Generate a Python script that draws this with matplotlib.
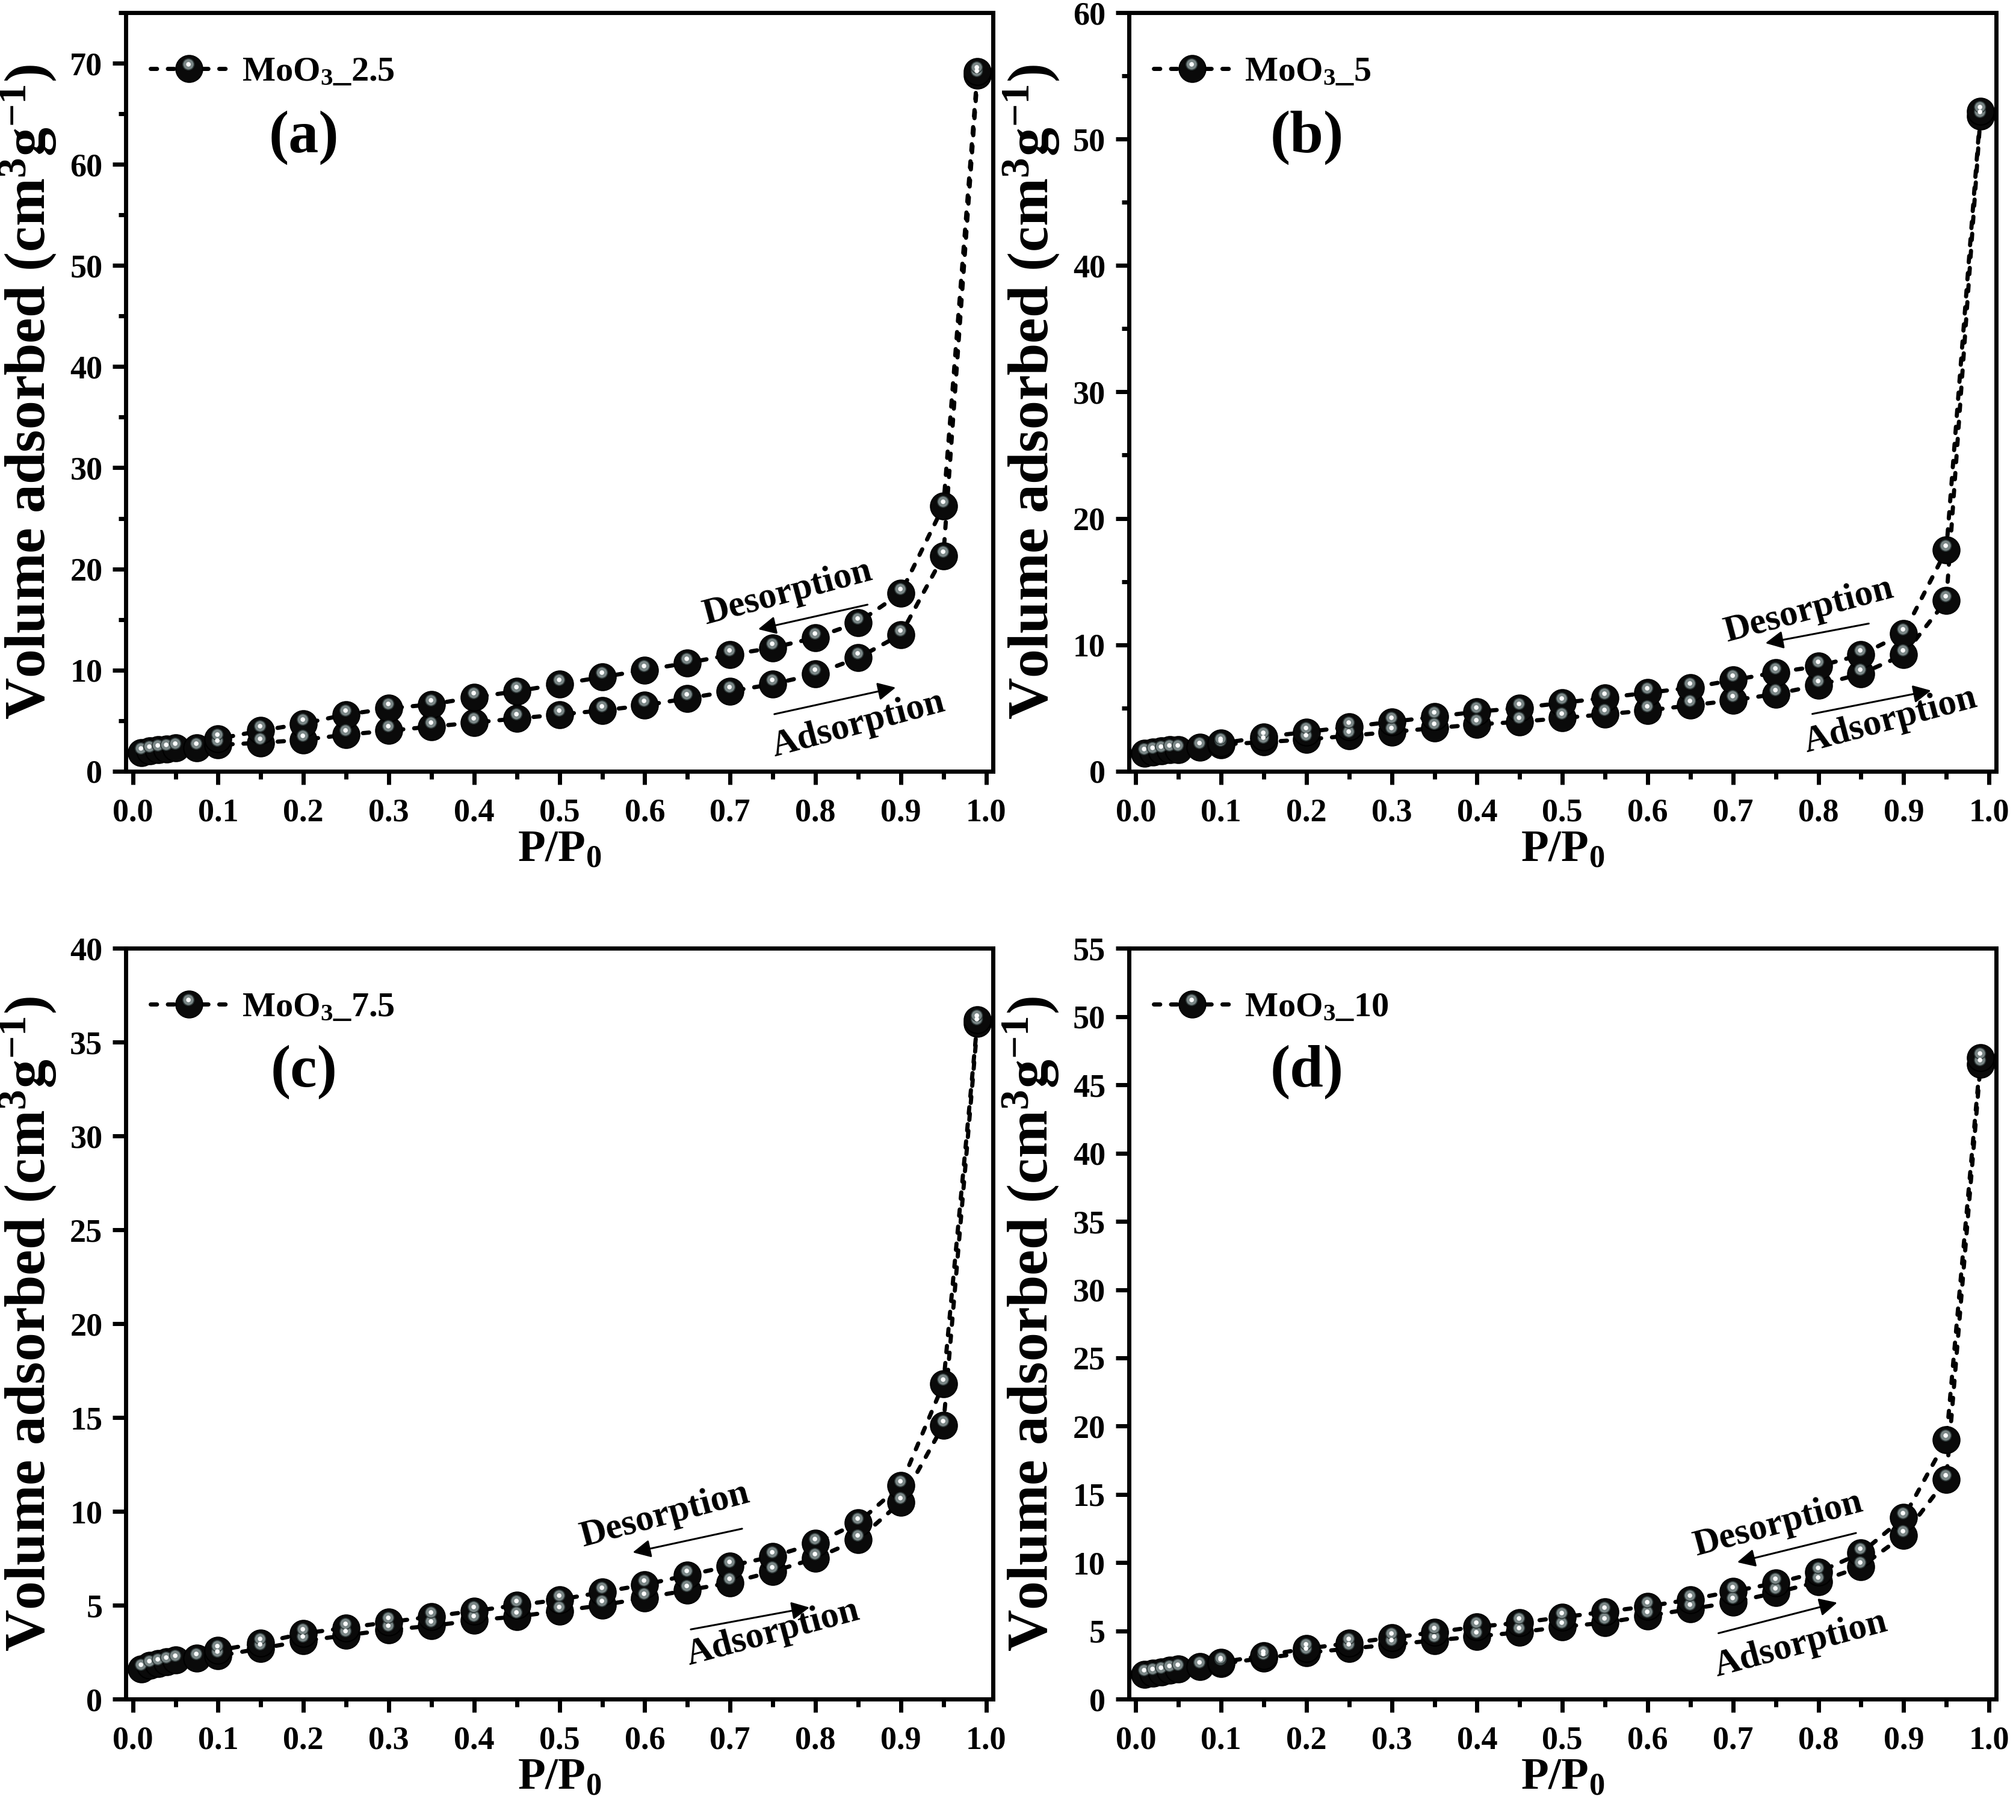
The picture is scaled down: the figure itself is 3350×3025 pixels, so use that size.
import matplotlib
matplotlib.use('Agg')
import matplotlib.pyplot as plt
from matplotlib.markers import MarkerStyle
from matplotlib.transforms import Affine2D
from matplotlib.legend_handler import HandlerTuple
from matplotlib.ticker import MultipleLocator, NullLocator, FormatStrFormatter

plt.rcParams['font.family'] = 'Liberation Serif'
plt.rcParams['font.weight'] = 'bold'
plt.rcParams['axes.labelweight'] = 'bold'
plt.rcParams['mathtext.fontset'] = 'custom'
plt.rcParams['mathtext.rm'] = 'Liberation Serif:bold'
plt.rcParams['mathtext.it'] = 'Liberation Serif:bold'
plt.rcParams['mathtext.bf'] = 'Liberation Serif:bold'

# relative pressure points (adsorption branch, then desorption branch)
ads_x = [0.01, 0.02, 0.03, 0.04, 0.05, 0.075, 0.1, 0.15, 0.2, 0.25, 0.3, 0.35, 0.4,
         0.45, 0.5, 0.55, 0.6, 0.65, 0.7, 0.75, 0.8, 0.85, 0.9, 0.95, 0.99]
des_x = [0.99, 0.95, 0.9, 0.85, 0.8, 0.75, 0.7, 0.65, 0.6, 0.55, 0.5, 0.45, 0.4,
         0.35, 0.3, 0.25, 0.2, 0.15, 0.1]

# volume adsorbed (cm3/g)
ads_25 = [1.8, 2.0, 2.1, 2.2, 2.3, 2.3, 2.6, 2.8, 3.1, 3.6, 4.0, 4.4, 4.8,
          5.2, 5.6, 6.0, 6.5, 7.2, 7.9, 8.6, 9.6, 11.2, 13.5, 21.3, 68.8]
des_25 = [69.2, 26.2, 17.6, 14.7, 13.2, 12.2, 11.5, 10.7, 10.0, 9.3, 8.6, 7.9, 7.3,
          6.6, 6.2, 5.6, 4.7, 4.0, 3.2]

ads_5 = [1.4, 1.5, 1.6, 1.7, 1.7, 1.9, 2.1, 2.3, 2.5, 2.8, 3.1, 3.4, 3.7,
         3.9, 4.2, 4.5, 4.8, 5.2, 5.6, 6.1, 6.8, 7.7, 9.2, 13.5, 51.8]
des_5 = [52.2, 17.5, 10.9, 9.2, 8.3, 7.8, 7.2, 6.6, 6.2, 5.8, 5.4, 5.0, 4.7,
         4.3, 3.9, 3.5, 3.1, 2.7, 2.2]

ads_75 = [1.6, 1.8, 1.9, 2.0, 2.1, 2.2, 2.3, 2.7, 3.1, 3.4, 3.7, 3.9, 4.2,
          4.4, 4.7, 5.0, 5.4, 5.8, 6.2, 6.8, 7.5, 8.5, 10.5, 14.6, 36.0]
des_75 = [36.2, 16.8, 11.4, 9.4, 8.3, 7.6, 7.1, 6.6, 6.1, 5.7, 5.3, 5.0, 4.7,
          4.4, 4.1, 3.8, 3.5, 3.0, 2.6]

ads_10 = [1.8, 1.9, 2.0, 2.1, 2.2, 2.4, 2.6, 3.0, 3.4, 3.7, 4.0, 4.3, 4.6,
          4.9, 5.3, 5.6, 6.1, 6.6, 7.1, 7.8, 8.6, 9.7, 12.0, 16.1, 46.5]
des_10 = [47.0, 19.0, 13.3, 10.7, 9.3, 8.5, 7.9, 7.3, 6.8, 6.4, 6.0, 5.6, 5.3,
          4.9, 4.5, 4.1, 3.7, 3.2, 2.7]

labels = ['MoO$_3$_2.5', 'MoO$_3$_5', 'MoO$_3$_7.5', 'MoO$_3$_10']
letters = ['(a)', '(b)', '(c)', '(d)']
ads_all = [ads_25, ads_5, ads_75, ads_10]
des_all = [des_25, des_5, des_75, des_10]
ymax = [75, 60, 40, 55]
ymajor = [10, 10, 5, 5]
yminor = [5, 5, None, None]

# annotation placement per panel: (text x, y), arrow start, arrow end
des_txt = [(0.768, 17.6), (0.789, 12.7), (0.624, 9.8), (0.753, 12.8)]
des_arr = [((0.863, 16.5), (0.731, 14.0)), ((0.861, 11.7), (0.736, 10.1)),
           ((0.716, 9.1), (0.584, 7.8)), ((0.846, 12.2), (0.703, 10.0))]
ads_txt = [(0.850, 4.6), (0.884, 4.0), (0.750, 3.5), (0.779, 4.0)]
ads_arr = [((0.750, 5.6), (0.896, 8.3)), ((0.791, 4.5), (0.934, 6.4)),
           ((0.652, 3.7), (0.795, 4.9)), ((0.681, 4.8), (0.824, 7.1))]

positions = [[0.0625, 0.5763, 0.430, 0.4167],
             [0.560, 0.5763, 0.430, 0.4167],
             [0.0625, 0.0664, 0.430, 0.4125],
             [0.560, 0.0664, 0.430, 0.4125]]

MS = 32
ring = MarkerStyle('o', transform=Affine2D().scale(0.42).translate(-0.03, 0.17))
dot = MarkerStyle('o', transform=Affine2D().scale(0.17).translate(-0.03, 0.17))

fig = plt.figure(figsize=(33.5, 30.25), dpi=100)

for i in range(4):
    ax = fig.add_axes(positions[i])
    x = ads_x + des_x
    y = ads_all[i] + des_all[i]

    line, = ax.plot(x, y, color='black', linestyle=(0, (1.5, 2.6)), linewidth=5,
                    dash_capstyle='round', marker='o', markersize=MS,
                    markerfacecolor='#0a0a0a', markeredgecolor='black',
                    markeredgewidth=1.5)
    hl1, = ax.plot(x, y, linestyle='none', marker=ring, markersize=MS,
                   markerfacecolor='#7a8686', markeredgecolor='#2e3838',
                   markeredgewidth=1.2)
    hl2, = ax.plot(x, y, linestyle='none', marker=dot, markersize=MS,
                   markerfacecolor='white', markeredgecolor='white',
                   markeredgewidth=0)

    ax.set_xlim(-0.008, 1.008)
    ax.set_ylim(0, ymax[i])
    ax.xaxis.set_major_locator(MultipleLocator(0.1))
    ax.xaxis.set_minor_locator(MultipleLocator(0.05))
    ax.yaxis.set_major_locator(MultipleLocator(ymajor[i]))
    if yminor[i]:
        ax.yaxis.set_minor_locator(MultipleLocator(yminor[i]))
    else:
        ax.yaxis.set_minor_locator(NullLocator())
    ax.xaxis.set_major_formatter(FormatStrFormatter('%.1f'))

    for s in ax.spines.values():
        s.set_linewidth(5)
    ax.tick_params(which='major', direction='out', length=16, width=5,
                   labelsize=39, pad=12)
    ax.tick_params(which='minor', direction='out', length=9, width=5)
    ax.tick_params(axis='x', which='major', pad=16)

    ax.set_xlabel('P/P$_0$', fontsize=54, fontweight='bold', labelpad=2)
    ax.set_ylabel('Volume adsorbed (cm$^3$g$^{-1}$)', fontsize=69,
                  fontweight='bold', labelpad=14)

    ax.legend([(line, hl1, hl2)], [labels[i]],
              handler_map={tuple: HandlerTuple(ndivide=1, pad=0)},
              loc='upper left', bbox_to_anchor=(0.0, 0.975), frameon=False,
              fontsize=42, handlelength=2.2, handletextpad=0.4, borderaxespad=0.3)

    ax.text(0.205, 0.835, letters[i], transform=ax.transAxes, fontsize=72,
            fontweight='bold', ha='center', va='center')

    ax.text(des_txt[i][0], des_txt[i][1], 'Desorption', fontsize=44, rotation=15,
            fontweight='bold', ha='center', va='center', rotation_mode='anchor')
    ax.annotate('', xy=des_arr[i][1], xytext=des_arr[i][0],
                arrowprops=dict(arrowstyle='-|>', color='black', lw=2.2,
                                mutation_scale=45))
    ax.text(ads_txt[i][0], ads_txt[i][1], 'Adsorption', fontsize=44, rotation=15,
            fontweight='bold', ha='center', va='center', rotation_mode='anchor')
    ax.annotate('', xy=ads_arr[i][1], xytext=ads_arr[i][0],
                arrowprops=dict(arrowstyle='-|>', color='black', lw=2.2,
                                mutation_scale=45))

fig.savefig('out.png', dpi=100)
